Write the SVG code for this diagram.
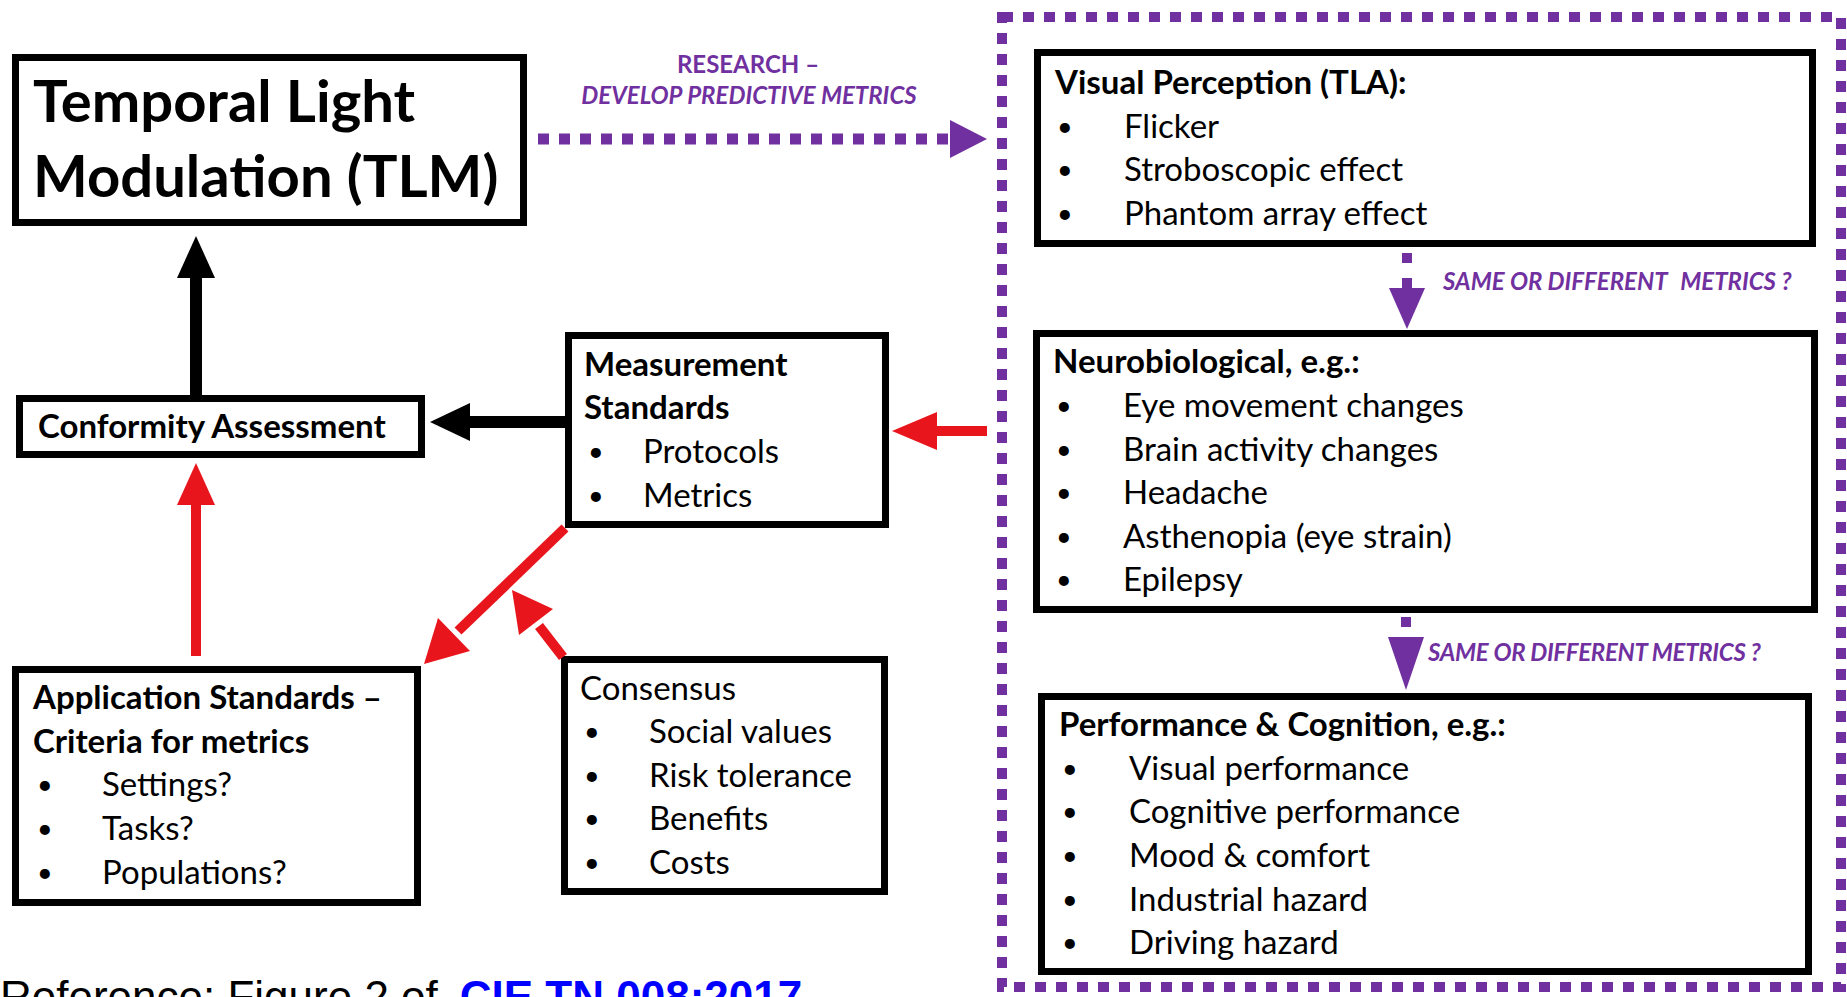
<svg xmlns="http://www.w3.org/2000/svg" width="1847" height="997" viewBox="0 0 1847 997">
<style>
.box{fill:#fff;stroke:#000;stroke-width:7}
.t{font-family:Lato,"Open Sans",sans-serif;font-size:33px;fill:#000}
.bu{font-family:Lato,"Open Sans",sans-serif;font-size:27px;fill:#000}
.b{font-weight:bold}
.big{font-family:Lato,"Open Sans",sans-serif;font-size:58px;font-weight:bold;fill:#000}
.pl{font-family:Lato,"Open Sans",sans-serif;font-size:24px;font-weight:bold;fill:#7030A0}
.it{font-style:italic}
.pd{fill:none;stroke:#7030A0;stroke-width:10;stroke-dasharray:11 10}
.pa{fill:#7030A0}
.red{stroke:#E8161C;stroke-width:10;fill:none}
.redf{fill:#E8161C}
.blk{stroke:#000;stroke-width:12;fill:none}
.cap{font-family:"Liberation Sans",Arial,sans-serif;font-size:44px}
</style>
<rect width="1847" height="997" fill="#fff"/>

<g id="research-area">
<rect class="pd" x="1002" y="17" width="839" height="970"/>
</g>

<g id="tlm">
<rect class="box" x="15.5" y="57.5" width="508" height="165"/>
<text class="big" x="33" y="122">Temporal Light</text>
<text class="big" x="33" y="197">Modulation (TLM)</text>
</g>

<g id="conformity">
<rect class="box" x="19.5" y="398.5" width="402" height="56"/>
<text class="t b" x="38" y="438">Conformity Assessment</text>
</g>

<g id="measurement">
<rect class="box" x="568.5" y="335.5" width="317" height="189"/>
<text class="t b" x="584" y="376">Measurement</text>
<text class="t b" x="584" y="419">Standards</text>
<text class="bu" x="588" y="461">•</text><text class="t" x="643" y="463">Protocols</text>
<text class="bu" x="588" y="505">•</text><text class="t" x="643" y="507">Metrics</text>
</g>

<g id="application">
<rect class="box" x="15.5" y="669.5" width="402" height="233"/>
<text class="t b" x="33" y="709">Application Standards –</text>
<text class="t b" x="33" y="753">Criteria for metrics</text>
<text class="bu" x="37" y="794">•</text><text class="t" x="102" y="796">Settings?</text>
<text class="bu" x="37" y="838">•</text><text class="t" x="102" y="840">Tasks?</text>
<text class="bu" x="37" y="882">•</text><text class="t" x="102" y="884">Populations?</text>
</g>

<g id="consensus">
<rect class="box" x="564.5" y="659.5" width="320" height="232"/>
<text class="t" x="580" y="700">Consensus</text>
<text class="bu" x="584" y="741">•</text><text class="t" x="649" y="743">Social values</text>
<text class="bu" x="584" y="785">•</text><text class="t" x="649" y="787">Risk tolerance</text>
<text class="bu" x="584" y="828">•</text><text class="t" x="649" y="830">Benefits</text>
<text class="bu" x="584" y="872">•</text><text class="t" x="649" y="874">Costs</text>
</g>

<g id="visual-perception">
<rect class="box" x="1037.5" y="52.5" width="775" height="191"/>
<text class="t b" x="1055" y="94">Visual Perception (TLA):</text>
<text class="bu" x="1057" y="136">•</text><text class="t" x="1124" y="138">Flicker</text>
<text class="bu" x="1057" y="179">•</text><text class="t" x="1124" y="181">Stroboscopic effect</text>
<text class="bu" x="1057" y="223">•</text><text class="t" x="1124" y="225">Phantom array effect</text>
</g>

<g id="neurobiological">
<rect class="box" x="1036.5" y="333.5" width="778" height="276"/>
<text class="t b" x="1053" y="373">Neurobiological, e.g.:</text>
<text class="bu" x="1056" y="415">•</text><text class="t" x="1123" y="417">Eye movement changes</text>
<text class="bu" x="1056" y="459">•</text><text class="t" x="1123" y="461">Brain activity changes</text>
<text class="bu" x="1056" y="502">•</text><text class="t" x="1123" y="504">Headache</text>
<text class="bu" x="1056" y="546">•</text><text class="t" x="1123" y="548">Asthenopia (eye strain)</text>
<text class="bu" x="1056" y="589">•</text><text class="t" x="1123" y="591">Epilepsy</text>
</g>

<g id="performance">
<rect class="box" x="1041.5" y="696.5" width="767" height="275"/>
<text class="t b" x="1059" y="736">Performance &amp; Cognition, e.g.:</text>
<text class="bu" x="1062" y="778">•</text><text class="t" x="1129" y="780">Visual performance</text>
<text class="bu" x="1062" y="821">•</text><text class="t" x="1129" y="823">Cognitive performance</text>
<text class="bu" x="1062" y="865">•</text><text class="t" x="1129" y="867">Mood &amp; comfort</text>
<text class="bu" x="1062" y="909">•</text><text class="t" x="1129" y="911">Industrial hazard</text>
<text class="bu" x="1062" y="952">•</text><text class="t" x="1129" y="954">Driving hazard</text>
</g>

<g id="connectors">
<line x1="538" y1="139" x2="952" y2="139" stroke="#7030A0" stroke-width="11" stroke-dasharray="11 10"/>
<polygon class="pa" points="950,120 987,139 950,158"/>
<text class="pl" x="748" y="73" text-anchor="middle">RESEARCH –</text>
<text class="pl it" x="749" y="104" text-anchor="middle">DEVELOP PREDICTIVE METRICS</text>
<rect class="pa" x="1402" y="253" width="10" height="10"/>
<rect class="pa" x="1402" y="278" width="10" height="10"/>
<polygon class="pa" points="1389,288 1425,288 1407,329"/>
<text class="pl it" x="1443" y="290">SAME OR DIFFERENT <tspan dx="8">METRICS ?</tspan></text>
<rect class="pa" x="1401" y="617" width="10" height="10"/>
<polygon class="pa" points="1388,637 1424,637 1406,690"/>
<text class="pl it" x="1428" y="661" letter-spacing="-0.3">SAME OR DIFFERENT METRICS ?</text>
<line class="blk" x1="196" y1="395" x2="196" y2="272"/>
<polygon points="177,278 215,278 196,236"/>
<line class="blk" x1="566" y1="422" x2="465" y2="422"/>
<polygon points="470,403 470,441 430,422"/>
<line class="red" x1="987" y1="431" x2="932" y2="431"/>
<polygon class="redf" points="937,412 937,450 892,431"/>
<line class="red" x1="196" y1="656" x2="196" y2="500"/>
<polygon class="redf" points="177,505 215,505 196,463"/>
<line class="red" x1="565" y1="528" x2="458" y2="631"/>
<polygon class="redf" points="470,651 438,618 424,664"/>
<line class="red" x1="563" y1="657" x2="539" y2="626"/>
<polygon class="redf" points="553,609 519,635 512,590"/>
</g>

<text class="cap" x="0" y="1012">Reference: Figure 2 of<tspan dx="22" font-weight="bold" fill="#0000FF">CIE TN 008:2017</tspan></text>
</svg>
